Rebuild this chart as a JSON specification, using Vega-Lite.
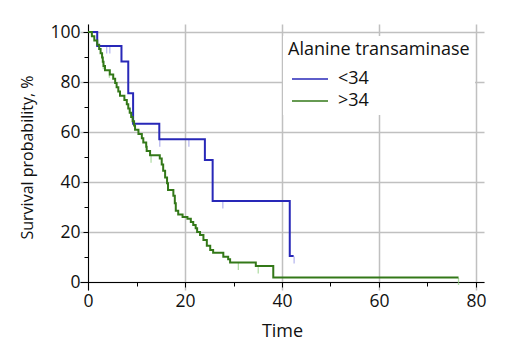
{
  "$schema": "https://vega.github.io/schema/vega-lite/v6.json",
  "autosize": "none",
  "width": 404,
  "height": 266,
  "padding": {"left": 80, "top": 24, "right": 25, "bottom": 51},
  "datasets": {
    "curves": [
      {"group": "<34", "t": 0, "v": 100},
      {"group": "<34", "t": 1.9, "v": 94.4},
      {"group": "<34", "t": 6.9, "v": 88.2},
      {"group": "<34", "t": 8.3, "v": 75.5},
      {"group": "<34", "t": 9.3, "v": 63.3},
      {"group": "<34", "t": 14.7, "v": 57.1},
      {"group": "<34", "t": 24.1, "v": 48.8},
      {"group": "<34", "t": 25.7, "v": 32.4},
      {"group": "<34", "t": 41.6, "v": 10.4},
      {"group": "<34", "t": 42.4, "v": 10.4},
      {"group": ">34", "t": 0, "v": 100},
      {"group": ">34", "t": 0.8, "v": 98.3},
      {"group": ">34", "t": 1.3, "v": 96.6},
      {"group": ">34", "t": 1.9, "v": 94.9},
      {"group": ">34", "t": 2.3, "v": 93.2},
      {"group": ">34", "t": 2.6, "v": 91.5},
      {"group": ">34", "t": 2.9, "v": 89.8},
      {"group": ">34", "t": 3.05, "v": 88.1},
      {"group": ">34", "t": 3.2, "v": 86.4},
      {"group": ">34", "t": 3.5, "v": 84.7},
      {"group": ">34", "t": 4.5, "v": 83.0},
      {"group": ">34", "t": 5.2, "v": 81.3},
      {"group": ">34", "t": 5.6, "v": 79.6},
      {"group": ">34", "t": 5.9, "v": 77.9},
      {"group": ">34", "t": 6.25, "v": 76.2},
      {"group": ">34", "t": 6.6, "v": 74.5},
      {"group": ">34", "t": 7.5, "v": 72.8},
      {"group": ">34", "t": 8.0, "v": 71.1},
      {"group": ">34", "t": 8.3, "v": 69.4},
      {"group": ">34", "t": 8.6, "v": 67.7},
      {"group": ">34", "t": 8.9, "v": 66.0},
      {"group": ">34", "t": 9.2, "v": 64.3},
      {"group": ">34", "t": 9.5, "v": 62.6},
      {"group": ">34", "t": 9.7, "v": 60.9},
      {"group": ">34", "t": 10.4, "v": 59.2},
      {"group": ">34", "t": 11.1, "v": 57.5},
      {"group": ">34", "t": 11.4, "v": 55.8},
      {"group": ">34", "t": 12.0, "v": 54.1},
      {"group": ">34", "t": 12.1, "v": 52.4},
      {"group": ">34", "t": 12.8, "v": 50.7},
      {"group": ">34", "t": 14.8, "v": 49.4},
      {"group": ">34", "t": 15.2, "v": 47.0},
      {"group": ">34", "t": 15.5, "v": 44.5},
      {"group": ">34", "t": 15.9, "v": 41.8},
      {"group": ">34", "t": 16.3, "v": 39.5},
      {"group": ">34", "t": 16.5, "v": 36.8},
      {"group": ">34", "t": 17.6, "v": 34.5},
      {"group": ">34", "t": 17.9, "v": 31.5},
      {"group": ">34", "t": 18.1, "v": 28.5},
      {"group": ">34", "t": 18.6, "v": 27.0},
      {"group": ">34", "t": 19.5, "v": 26.0},
      {"group": ">34", "t": 20.5, "v": 25.3},
      {"group": ">34", "t": 21.2, "v": 24.0},
      {"group": ">34", "t": 21.7, "v": 22.8},
      {"group": ">34", "t": 22.2, "v": 21.5},
      {"group": ">34", "t": 22.5, "v": 20.0},
      {"group": ">34", "t": 23.1, "v": 18.8},
      {"group": ">34", "t": 23.8, "v": 16.8},
      {"group": ">34", "t": 24.5, "v": 14.5},
      {"group": ">34", "t": 25.2, "v": 12.8},
      {"group": ">34", "t": 25.8, "v": 11.7},
      {"group": ">34", "t": 27.9, "v": 10.1},
      {"group": ">34", "t": 28.9, "v": 9.1},
      {"group": ">34", "t": 29.3, "v": 7.8},
      {"group": ">34", "t": 34.6, "v": 6.4},
      {"group": ">34", "t": 38.2, "v": 1.8},
      {"group": ">34", "t": 76.4, "v": 1.8}
    ],
    "censored": [
      {"group": "<34", "t": 3.85, "v": 94.4},
      {"group": "<34", "t": 4.5, "v": 94.4},
      {"group": "<34", "t": 14.8, "v": 57.1},
      {"group": "<34", "t": 20.8, "v": 57.1},
      {"group": "<34", "t": 27.8, "v": 32.4},
      {"group": "<34", "t": 42.5, "v": 10.4},
      {"group": ">34", "t": 3.15, "v": 88.1},
      {"group": ">34", "t": 4.4, "v": 84.7},
      {"group": ">34", "t": 13.0, "v": 50.7},
      {"group": ">34", "t": 31.0, "v": 7.8},
      {"group": ">34", "t": 35.1, "v": 6.4},
      {"group": ">34", "t": 76.4, "v": 1.8}
    ]
  },
  "layer": [
    {
      "data": {"name": "censored"},
      "mark": {"type": "tick", "orient": "vertical", "size": 7, "thickness": 1.3, "yOffset": 4},
      "encoding": {
        "x": {
          "field": "t", "type": "quantitative",
          "scale": {"domain": [-1.65, 81.65], "nice": false, "zero": false},
          "axis": {"orient": "bottom", "offset": -8, "values": [10, 30, 50, 70], "labels": false, "grid": false, "domain": false, "tickSize": 4, "title": null}
        },
        "y": {
          "field": "v", "type": "quantitative",
          "scale": {"domain": [-3.2, 103.2], "nice": false, "zero": false},
          "axis": {"orient": "left", "offset": -8, "values": [10, 30, 50, 70, 90], "labels": false, "grid": false, "domain": false, "tickSize": 4, "title": null}
        },
        "color": {
          "field": "group", "type": "nominal",
          "scale": {"domain": ["<34", ">34"], "range": ["#9b9be8", "#92cf82"]},
          "legend": null
        }
      }
    },
    {
      "data": {"name": "curves"},
      "mark": {"type": "line", "interpolate": "step-after", "strokeWidth": 2},
      "encoding": {
        "x": {
          "field": "t", "type": "quantitative",
          "scale": {"domain": [-1.65, 81.65], "nice": false, "zero": false},
          "axis": {"orient": "bottom", "offset": -8, "values": [0, 20, 40, 60, 80], "grid": true, "title": "Time", "titleFontSize": 18, "titleY": 54, "titleBaseline": "alphabetic", "labelPadding": 5}
        },
        "y": {
          "field": "v", "type": "quantitative",
          "scale": {"domain": [-3.2, 103.2], "nice": false, "zero": false},
          "axis": {"orient": "left", "offset": -8, "values": [0, 20, 40, 60, 80, 100], "grid": true, "title": "Survival probability, %", "titleX": -61, "titleY": 133, "titleBaseline": "middle", "labelPadding": 3}
        },
        "color": {
          "field": "group", "type": "nominal",
          "scale": {"domain": ["<34", ">34"], "range": ["#2828b8", "#337818"]},
          "legend": {
            "title": "Alanine transaminase",
            "orient": "none", "legendX": 203, "legendY": 12,
            "fillColor": "white", "padding": 5,
            "symbolType": "M-1,0H3", "symbolSize": 324, "symbolStrokeWidth": 1.5,
            "labelOffset": 27, "rowPadding": 3, "titlePadding": 10, "symbolOffset": 3,
            "titleLimit": 400, "labelLimit": 200
          }
        }
      }
    }
  ],
  "resolve": {
    "scale": {"color": "independent"},
    "axis": {"x": "independent", "y": "independent"},
    "legend": {"color": "independent"}
  },
  "config": {
    "font": "Open Sans",
    "view": {"stroke": null},
    "axis": {
      "domainColor": "#000",
      "domainWidth": 1,
      "tickColor": "#000",
      "tickSize": 5,
      "tickWidth": 1,
      "gridColor": "#c0c0c0",
      "gridWidth": 1.5,
      "labelFontSize": 17.5,
      "labelColor": "#111",
      "titleFontSize": 16,
      "titleFontWeight": "normal",
      "titleColor": "#111"
    },
    "legend": {
      "titleFontSize": 18,
      "titleFontWeight": "normal",
      "titleColor": "#111",
      "labelFontSize": 18,
      "labelColor": "#111"
    }
  }
}
